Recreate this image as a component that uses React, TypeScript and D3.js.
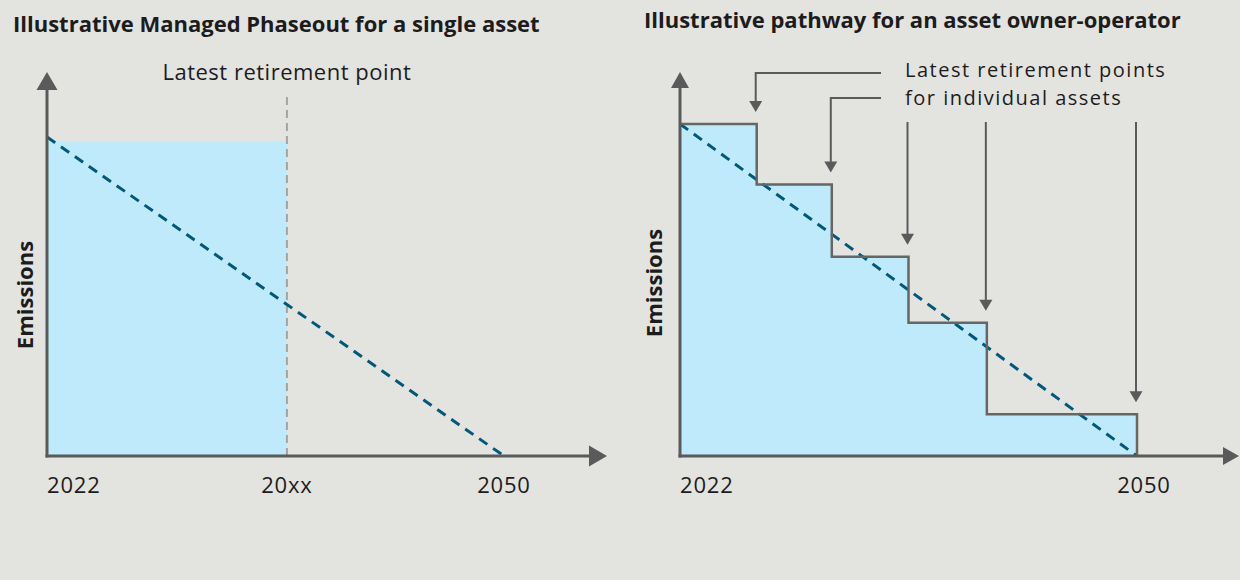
import React, { useEffect, useRef } from 'react';
import * as d3 from 'd3';

// left panel: one asset, retired at an unspecified year "20xx"
const leftTickYears = [2022, 2036.7, 2050];
const leftTickLabels = ['2022', '20xx', '2050'];
const assetRetireYear = 2036.7;
const assetEmissions = 98.5;

// straight-line pathway used in both panels
const pathwayYears = [2022, 2050];
const pathwayEmissions = [100, 0];

// right panel: portfolio of assets retiring one by one
const rightTickYears = [2022, 2050];
const rightTickLabels = ['2022', '2050'];
const stepRetireYears = [2026.7, 2031.3, 2036.0, 2040.8, 2050];
const stepLevels = [100, 81.8, 60, 40.1, 12.6];

const titles = [
  'Illustrative Managed Phaseout for a single asset',
  'Illustrative pathway for an asset owner-operator',
];
const noteLines = ['Latest retirement points', 'for individual assets'];

const BG = '#e3e3df';
const FILL = '#bfeafc';
const TEAL = '#00587a';
const AXIS = '#5a5a5a';
const INK = '#1c1c1c';
const FONT = "'Open Sans', sans-serif";

const App = () => {
  const ref = useRef(null);

  useEffect(() => {
    draw();
  }, []);

  const arrowHead = (g, x, y, dir, half, len) => {
    // dir: 'up' | 'down' | 'right', (x, y) is the tip
    let pts;
    if (dir === 'up') pts = [[x, y], [x - half, y + len], [x + half, y + len]];
    else if (dir === 'down') pts = [[x, y], [x - half, y - len], [x + half, y - len]];
    else pts = [[x, y], [x - len, y - half], [x - len, y + half]];
    g.append('path').attr('d', d3.line()(pts) + 'Z').attr('fill', AXIS);
  };

  const axes = (g, x0, y0, yTip, xTip, half, len) => {
    g.append('line')
      .attr('x1', x0).attr('y1', y0 + 1.5).attr('x2', x0).attr('y2', yTip + len - 1)
      .attr('stroke', AXIS).attr('stroke-width', 3);
    arrowHead(g, x0, yTip, 'up', half, len);
    g.append('line')
      .attr('x1', x0 - 1.5).attr('y1', y0).attr('x2', xTip - len + 1).attr('y2', y0)
      .attr('stroke', AXIS).attr('stroke-width', 3);
    arrowHead(g, xTip, y0, 'right', half, len);
  };

  const yLabel = (g, x, y) => {
    g.append('text')
      .attr('transform', `translate(${x},${y}) rotate(-90)`)
      .attr('text-anchor', 'middle')
      .attr('font-family', FONT).attr('font-weight', 700).attr('font-size', 22)
      .attr('fill', INK)
      .text('Emissions');
  };

  const tickText = (g, x, y, anchor, label) => {
    g.append('text')
      .attr('x', x).attr('y', y)
      .attr('text-anchor', anchor)
      .attr('font-family', FONT).attr('font-size', 22).attr('letter-spacing', 0.8)
      .attr('fill', INK)
      .text(label);
  };

  const draw = () => {
    const svg = d3.select(ref.current);
    svg.selectAll('*').remove();

    svg.append('rect').attr('width', 1240).attr('height', 580).attr('fill', BG);

    // ---------- left panel ----------
    const xL = d3.scaleLinear().domain([2022, 2050]).range([47, 504]);
    const yL = d3.scaleLinear().domain([0, 100]).range([456, 137]);
    const left = svg.append('g');

    left.append('text')
      .attr('x', 13).attr('y', 32)
      .attr('font-family', FONT).attr('font-weight', 700).attr('font-size', 22)
      .attr('fill', INK).text(titles[0]);

    left.append('rect')
      .attr('x', xL(2022)).attr('y', yL(assetEmissions))
      .attr('width', xL(assetRetireYear) - xL(2022))
      .attr('height', yL(0) - yL(assetEmissions))
      .attr('fill', FILL);

    left.append('line')
      .attr('x1', xL(assetRetireYear)).attr('x2', xL(assetRetireYear))
      .attr('y1', 97).attr('y2', yL(0))
      .attr('stroke', '#a4a4a2').attr('stroke-width', 2)
      .attr('stroke-dasharray', '8,5');

    left.append('text')
      .attr('x', xL(assetRetireYear)).attr('y', 80)
      .attr('text-anchor', 'middle')
      .attr('font-family', FONT).attr('font-size', 22).attr('letter-spacing', 0.5)
      .attr('fill', INK)
      .text('Latest retirement point');

    const lineL = d3.line().x((d, i) => xL(pathwayYears[i])).y(d => yL(d));
    left.append('path')
      .attr('d', lineL(pathwayEmissions))
      .attr('fill', 'none').attr('stroke', TEAL).attr('stroke-width', 3)
      .attr('stroke-dasharray', '10,7');

    axes(left, xL(2022), yL(0), 72, 607, 10.5, 18);
    yLabel(left, 33, 295);

    leftTickYears.forEach((yr, i) => {
      tickText(left, xL(yr), 493, i === 0 ? 'start' : 'middle', leftTickLabels[i]);
    });

    // ---------- right panel ----------
    const xR = d3.scaleLinear().domain([2022, 2050]).range([680, 1137]);
    const yR = d3.scaleLinear().domain([0, 100]).range([456, 124]);
    const right = svg.append('g');

    right.append('text')
      .attr('x', 644).attr('y', 28)
      .attr('font-family', FONT).attr('font-weight', 700).attr('font-size', 22)
      .attr('fill', INK).text(titles[1]);

    const stepPts = stepLevels.map((lvl, i) => [i === 0 ? 2022 : stepRetireYears[i - 1], lvl]);
    stepPts.push([stepRetireYears[stepRetireYears.length - 1], stepLevels[stepLevels.length - 1]]);

    const area = d3.area()
      .curve(d3.curveStepAfter)
      .x(d => xR(d[0])).y0(yR(0)).y1(d => yR(d[1]));
    right.append('path').attr('d', area(stepPts)).attr('fill', FILL);

    const lineR = d3.line().x((d, i) => xR(pathwayYears[i])).y(d => yR(d));
    right.append('path')
      .attr('d', lineR(pathwayEmissions))
      .attr('fill', 'none').attr('stroke', TEAL).attr('stroke-width', 3)
      .attr('stroke-dasharray', '10,7');

    const stepLine = d3.line().curve(d3.curveStepAfter).x(d => xR(d[0])).y(d => yR(d[1]));
    right.append('path')
      .attr('d', stepLine([...stepPts, [stepRetireYears[stepRetireYears.length - 1], 0]]))
      .attr('fill', 'none').attr('stroke', '#666664').attr('stroke-width', 2.5);

    axes(right, xR(2022), yR(0), 72, 1239, 9, 16);
    yLabel(right, 662, 283);

    rightTickYears.forEach((yr, i) => {
      tickText(right, xR(yr) + (i === 0 ? 0 : 7), 493, i === 0 ? 'start' : 'middle', rightTickLabels[i]);
    });

    // annotation arrows pointing at each retirement step
    const noteX = 905;
    const elbowX = 881;
    const elbowY = [73, 98];
    stepRetireYears.forEach((yr, i) => {
      const x = xR(yr) - 1;
      const tip = yR(stepLevels[i]) - 12;
      const pts = i < 2
        ? [[elbowX, elbowY[i]], [x, elbowY[i]], [x, tip - 9]]
        : [[x, 122], [x, tip - 9]];
      right.append('path')
        .attr('d', d3.line()(pts))
        .attr('fill', 'none').attr('stroke', AXIS).attr('stroke-width', 2);
      arrowHead(right, x, tip, 'down', 6.5, 11);
    });

    noteLines.forEach((t, i) => {
      right.append('text')
        .attr('x', noteX).attr('y', 77 + i * 27.5)
        .attr('font-family', FONT).attr('font-size', 20).attr('letter-spacing', 1.5)
        .attr('fill', INK)
        .text(t);
    });
  };

  return (
    <>
      <style>{'body{margin:0}'}</style>
      <svg ref={ref} width="1240" height="580" style={{ display: 'block' }}></svg>
    </>
  );
};

export default App;
